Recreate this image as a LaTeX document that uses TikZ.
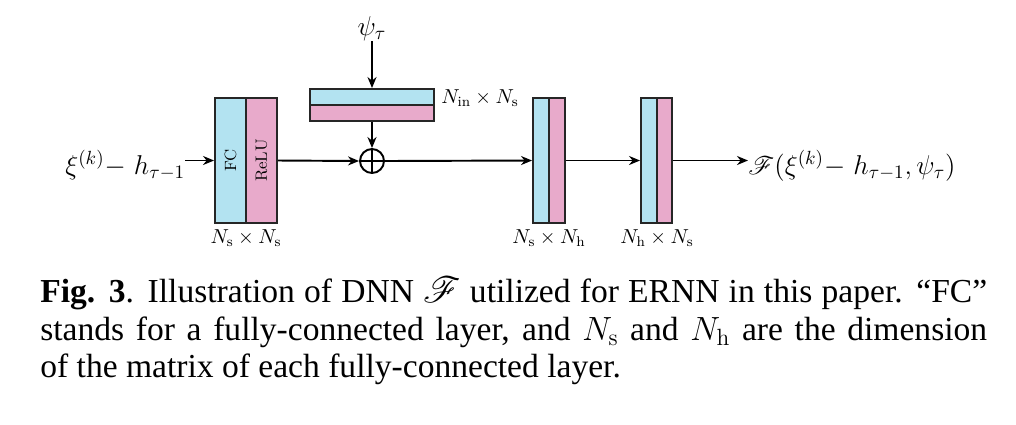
\RequirePackage{fix-cm}
\documentclass[tikz,border=0pt]{standalone}
\usepackage{fontspec}
\usepackage{mathrsfs}
\newfontfamily\capfont{Liberation Serif}
\usetikzlibrary{arrows.meta}
\definecolor{fccyan}{HTML}{B3E3F1}
\definecolor{relupink}{HTML}{E8AACB}
\tikzset{
	layer/.style={draw=black!85, line width=1.1pt, inner sep=0pt, minimum width=0.32cm, minimum height=2.5cm},
	conn/.style={line width=1.1pt, -{Stealth[length=0.22cm,width=0.18cm]}},
	laytext/.style={rotate=90, inner sep=0pt, font=\fontsize{9.3}{10}\selectfont},
	dimlab/.style={inner sep=0pt, font=\fontsize{11.5}{13}\selectfont},
	biglab/.style={inner sep=0pt, font=\fontsize{15.5}{18}\selectfont},
	captext/.style={inner sep=0pt, anchor=base west, font=\capfont\fontsize{19.1}{23}\selectfont}
}

\begin{document}
\begin{tikzpicture}[x=0.02cm, y=-0.02cm]
	%%%%% START %%%%%
	\useasboundingbox (0,0) rectangle (1016,424);
	
	% first layer: FC + ReLU
	\node[layer, fill=fccyan, minimum width=0.62cm] (fc1) at (230.5,160.5) {};
	\node[layer, fill=relupink, minimum width=0.62cm] (relu1) at (261.5,160.5) {};
	\node[laytext] (fctxt) at (fc1) {FC};
	\node[laytext] (relutxt) at (relu1) {ReLU};
	
	% input weights
	\node[layer, fill=fccyan, minimum width=2.48cm, minimum height=0.32cm] (win) at (372,97) {};
	\node[layer, fill=relupink, minimum width=2.48cm, minimum height=0.32cm] (winb) at (372,113) {};
	
	% sum
	\node[circle, draw, line width=1.1pt, minimum size=0.48cm, inner sep=0pt] (add) at (372,161) {};
	\draw[line width=1.1pt] (add.north) -- (add.south) (add.west) -- (add.east);
	
	% hidden layers
	\node[layer, fill=fccyan] (fc2) at (541,160.5) {};
	\node[layer, fill=relupink] (relu2) at (557,160.5) {};
	\node[layer, fill=fccyan] (fc3) at (649,160.5) {};
	\node[layer, fill=relupink, minimum width=0.30cm] (relu3) at (664.5,160.5) {};
	
	% texts
	\node[biglab, anchor=base west] (xin) at (65,174) {$\xi^{(k)}{-}\ h_{\tau-1}$};
	\node[biglab, anchor=south] (psi) at (372,41) {$\psi_\tau$};
	\node[biglab, anchor=base west] (yout) at (748,174) {$\mathscr{F}(\xi^{(k)}{-}\ h_{\tau-1},\psi_\tau)$};
	\node[dimlab, anchor=base] (dim1) at (246,243) {$N_\mathrm{s}\times N_\mathrm{s}$};
	\node[dimlab, anchor=base west] (dim0) at (441,103) {$N_\mathrm{in}\times N_\mathrm{s}$};
	\node[dimlab, anchor=base] (dim2) at (549,243) {$N_\mathrm{s}\times N_\mathrm{h}$};
	\node[dimlab, anchor=base] (dim3) at (657,243) {$N_\mathrm{h}\times N_\mathrm{s}$};
	
	% connectors
	\draw[conn] (xin.east |- fc1.west) -- (fc1.west);
	\draw[conn] (psi.south) -- (win.north);
	\draw[conn] (winb.south) -- (add.north);
	\draw[conn] (relu1.east) -- (add.west);
	\draw[conn] (add.east) -- (fc2.west);
	\draw[conn] (relu2.east) -- (fc3.west);
	\draw[conn] (relu3.east) -- (yout.west |- relu3.east);
	
	% caption
	\node[captext] (cap1) at (40,302) {\makebox[18.94cm][s]{\textbf{Fig. 3}. Illustration of DNN $\mathscr{F}$ utilized for ERNN in this paper. “FC”}};
	\node[captext] (cap2) at (40,340) {\makebox[18.94cm][s]{stands for a fully-connected layer, and $N_\mathrm{s}$ and $N_\mathrm{h}$ are the dimension}};
	\node[captext] (cap3) at (40,377) {of the matrix of each fully-connected layer.};
	%%%%% END %%%%%
\end{tikzpicture}
\end{document}
